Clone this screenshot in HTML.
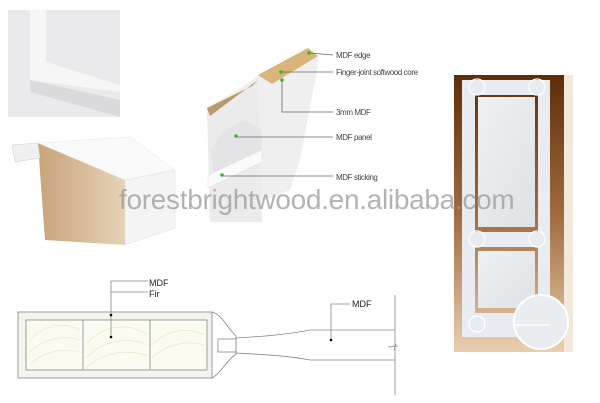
<!DOCTYPE html>
<html><head><style>
body{margin:0;background:#fff;width:600px;height:403px;overflow:hidden;position:relative;font-family:"Liberation Sans",sans-serif}
</style></head><body>
<svg width="600" height="403" viewBox="0 0 600 403" style="position:absolute;left:0;top:0">
<defs>
<linearGradient id="br" x1="0" y1="0" x2="0" y2="1"><stop offset="0" stop-color="#5e2e0a"/><stop offset="0.5" stop-color="#a06a3e"/><stop offset="1" stop-color="#e8cfb0"/></linearGradient>
<linearGradient id="pn" x1="0" y1="0" x2="1" y2="1"><stop offset="0" stop-color="#eef0f2"/><stop offset="1" stop-color="#dfe2e6"/></linearGradient>
<linearGradient id="wd" x1="0" y1="0" x2="1" y2="0"><stop offset="0" stop-color="#c9a47a"/><stop offset="1" stop-color="#e6d2b6"/></linearGradient>
</defs>
<!-- top-left panel closeup -->
<rect x="8" y="10" width="112" height="107" fill="#eaeaec"/>
<path d="M30 10 L46 10 L46 62 L120 85 L120 92 L30 80 Z" fill="#f6f6f7"/>
<path d="M30 80 L120 100 L120 117 L30 92 Z" fill="#dadadd"/>
<!-- bottom-left block -->
<path d="M38 143 L125 180 L125 245 L45 240 L42 200 Z" fill="url(#wd)"/>
<path d="M38 143 L130 137 L175 170 L125 180 Z" fill="#fafafa" stroke="#e4e4e4" stroke-width=".5"/>
<path d="M125 180 L175 170 L175 228 L125 245 Z" fill="#f4f4f4" stroke="#ddd" stroke-width=".5"/>
<path d="M12 145 L38 143 L40 158 L15 162 Z" fill="#f0f0f0" stroke="#ccc" stroke-width=".5"/>
<!-- middle cutaway -->
<path d="M207 108 L250 82 L258 75 L318 56 L318 65 L300 160 L290 190 L210 222 Z" fill="#efeff0"/>
<path d="M207 108 L250 86 L258 78 L262 222 L210 222 Z" fill="#ebebec"/>
<path d="M207 108 L252 86 L258 80 L210 116 Z" fill="#b89a6e"/>
<path d="M258 75 L308 48 L318 56 L272 84 Z" fill="#d9b57a"/>
<path d="M225 130 L245 120 L262 130 L262 160 L215 180 L210 150 Z" fill="#e4e4e6"/>
<path d="M208 175 L262 150 L262 162 L208 188 Z" fill="#fafafa" stroke="#ddd" stroke-width=".5"/>
<g stroke="#666" stroke-width=".8" fill="none">
<polyline points="309,53 333,55"/><polyline points="281,72 333,72"/>
<polyline points="282,80 282,112 333,112"/><polyline points="236,137 333,137"/><polyline points="222,176 333,176"/>
</g>
<g fill="#3cb43c"><circle cx="309" cy="53" r="1.8"/><circle cx="281" cy="72" r="1.8"/><circle cx="282" cy="80" r="1.8"/><circle cx="236" cy="136" r="1.8"/><circle cx="222" cy="175" r="1.8"/></g>
<g font-size="8" fill="#444" letter-spacing="-0.4">
<text x="336" y="58">MDF edge</text><text x="336" y="75">Finger-joint softwood core</text>
<text x="336" y="115">3mm MDF</text><text x="336" y="140">MDF panel</text><text x="336" y="180">MDF sticking</text>
</g>
<!-- door -->
<rect x="454" y="75" width="110" height="277" fill="url(#br)"/>
<rect x="564" y="75" width="9" height="277" fill="#f3e9da"/>
<g fill="#e8ecf0">
<rect x="462" y="80" width="13" height="257"/><rect x="538" y="80" width="12" height="257"/>
<rect x="462" y="80" width="88" height="15"/><rect x="462" y="232" width="88" height="15"/><rect x="462" y="313" width="88" height="24"/>
<rect x="478" y="97" width="57" height="130" fill="url(#pn)"/><rect x="478" y="251" width="57" height="57" fill="url(#pn)"/>
</g>
<g fill="none" stroke="#fff" stroke-width="1.2"><circle cx="477" cy="87" r="8"/><circle cx="537" cy="87" r="8"/><circle cx="477" cy="239" r="8"/><circle cx="537" cy="239" r="8"/><circle cx="477" cy="324" r="8"/></g>
<circle cx="541" cy="322" r="27" fill="#e9edf0" stroke="#fff" stroke-width="2"/>
<line x1="515" y1="325" x2="550" y2="325" stroke="#fff" stroke-width="1.5"/>
<!-- watermark -->
<text x="119" y="209" font-size="28" fill="#999" fill-opacity="0.75" letter-spacing="-0.3">forestbrightwood.en.alibaba.com</text>
<!-- bottom section -->
<g stroke="#888" stroke-width=".8" fill="#f4f3ee">
<rect x="18" y="312" width="194" height="66"/>
<rect x="26" y="320" width="181" height="50" fill="#fbfbf2"/>
</g>
<g stroke="#e4e6c0" stroke-width=".6" fill="none">
<path d="M30 340 A40 40 0 0 1 80 330 M30 352 A50 50 0 0 1 80 340 M30 364 A55 55 0 0 1 80 352"/>
<path d="M86 345 A45 45 0 0 1 148 335 M86 358 A55 55 0 0 1 148 345 M86 368 A60 60 0 0 1 148 356"/>
<path d="M152 345 A45 45 0 0 1 205 335 M152 358 A55 55 0 0 1 205 345"/>
</g>
<g stroke="#888" stroke-width=".8" fill="none">
<line x1="83" y1="320" x2="83" y2="370"/><line x1="150" y1="320" x2="150" y2="370"/>
<path d="M212 312 C222 315 225 325 236 336 L236 354 C225 362 222 372 212 378"/>
<rect x="218" y="339" width="18" height="13" fill="#fff"/>
<path d="M236 338 C270 336 290 334 310 330 L395 330 M236 353 C270 355 290 356 310 360 L395 360"/>
<line x1="395" y1="295" x2="395" y2="395"/>
<path d="M388 347 L398 346 M396 344 L394 350"/>
<polyline points="148,281 111,281 111,337" /><polyline points="148,292 111,292"/>
<polyline points="350,304 331,304 331,340"/>
</g>
<g fill="#000"><circle cx="111" cy="315" r="1.3"/><circle cx="111" cy="337" r="1.3"/><circle cx="331" cy="340" r="1.3"/></g>
<g font-size="9" fill="#222"><text x="149" y="286">MDF</text><text x="149" y="297">Fir</text><text x="352" y="307">MDF</text></g>
</svg>
</body></html>
